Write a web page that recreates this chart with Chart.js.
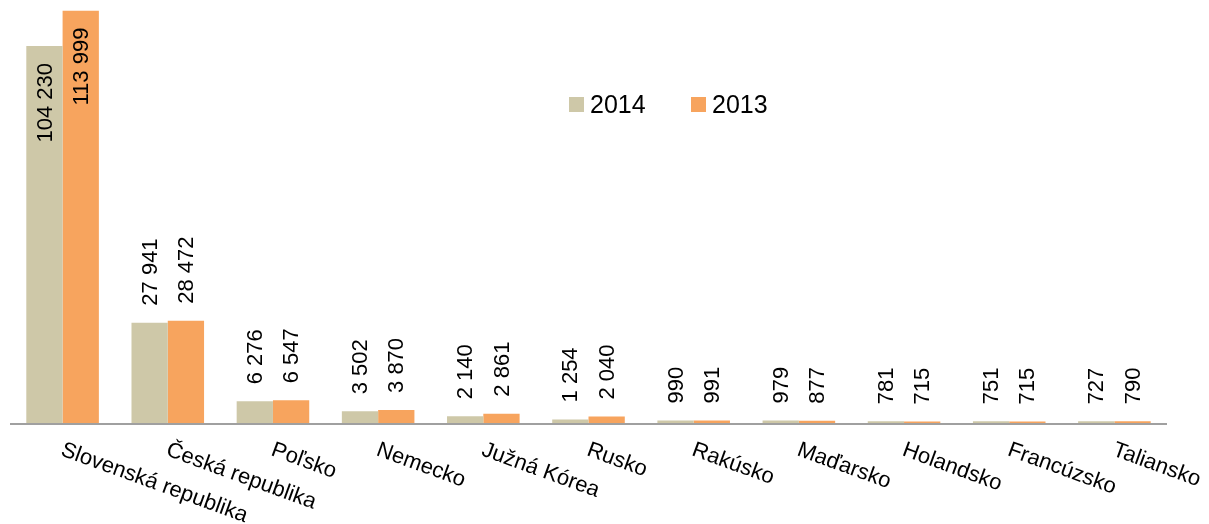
<!DOCTYPE html>
<html>
<head>
<meta charset="utf-8">
<script src="https://cdn.jsdelivr.net/npm/chart.js@4/dist/chart.umd.min.js"></script>
<style>
    body { margin: 0; background: #fff; }
    #wrap { width: 1209px; height: 524px; position: relative; }
</style>
</head>
<body>
<div id="wrap"><canvas id="exportChart"></canvas></div>
<script>
// countries and yearly values
const countries = ["Slovenská republika", "Česká republika", "Poľsko", "Nemecko", "Južná Kórea", "Rusko",
    "Rakúsko", "Maďarsko", "Holandsko", "Francúzsko", "Taliansko"];
const values2014 = [104230, 27941, 6276, 3502, 2140, 1254, 990, 979, 781, 751, 727];
const values2013 = [113999, 28472, 6547, 3870, 2861, 2040, 991, 877, 715, 715, 790];
const seriesNames = ["2014", "2013"];

const COLOR_2014 = "#cec8a8";
const COLOR_2013 = "#f7a45e";
const FONT = '"Liberation Sans", Arial, sans-serif';

// thousands with a space, like "104 230"
function formatValue(v) {
    return String(v).replace(/\B(?=(\d{3})+(?!\d))/g, " ");
}

// axis line, rotated category labels, value labels and legend
const decorations = {
    id: "decorations",
    afterDatasetsDraw(chart) {
        const ctx = chart.ctx;
        const area = chart.chartArea;
        const xScale = chart.scales.x;

        ctx.save();
        // axis line
        ctx.strokeStyle = "#a0a0a0";
        ctx.lineWidth = 2;
        ctx.beginPath();
        ctx.moveTo(area.left, area.bottom);
        ctx.lineTo(area.right, area.bottom);
        ctx.stroke();

        // category labels, going down to the right
        ctx.fillStyle = "#000";
        ctx.font = "22px " + FONT;
        ctx.textAlign = "left";
        ctx.textBaseline = "top";
        countries.forEach((name, i) => {
            const x = xScale.getPixelForValue(i);
            ctx.save();
            ctx.translate(x + 3, area.bottom + 15);
            ctx.rotate(20 * Math.PI / 180);
            ctx.fillText(name, 0, 0);
            ctx.restore();
        });

        // value labels, vertical
        ctx.textBaseline = "middle";
        chart.data.datasets.forEach((ds, di) => {
            const meta = chart.getDatasetMeta(di);
            meta.data.forEach((bar, i) => {
                const text = formatValue(ds.data[i]);
                const w = ctx.measureText(text).width;
                ctx.save();
                ctx.translate(bar.x + 1, bar.y);
                ctx.rotate(-Math.PI / 2);
                if (bar.y - 17 - w < area.top) {
                    ctx.textAlign = "right";
                    ctx.fillText(text, -17, 0);
                } else {
                    ctx.textAlign = "left";
                    ctx.fillText(text, 17, 0);
                }
                ctx.restore();
            });
        });

        // legend
        ctx.font = "25px " + FONT;
        ctx.textAlign = "left";
        ctx.textBaseline = "alphabetic";
        const legendX = [569, 691];
        chart.data.datasets.forEach((ds, di) => {
            ctx.fillStyle = ds.backgroundColor;
            ctx.fillRect(legendX[di], 97, 15, 15);
            ctx.fillStyle = "#000";
            ctx.fillText(ds.label, legendX[di] + 21, 113);
        });
        ctx.restore();
    }
};

const ctx = document.getElementById("exportChart").getContext("2d");
new Chart(ctx, {
    type: "bar",
    data: {
        labels: countries,
        datasets: [
            { label: seriesNames[0], data: values2014, backgroundColor: COLOR_2014 },
            { label: seriesNames[1], data: values2013, backgroundColor: COLOR_2013 }
        ]
    },
    options: {
        responsive: true,
        maintainAspectRatio: false,
        animation: false,
        datasets: {
            bar: { categoryPercentage: 0.69, barPercentage: 1.0, borderWidth: 0 }
        },
        layout: { padding: { left: 10, right: 42, top: 7, bottom: 100 } },
        scales: {
            x: { display: false },
            y: { display: false, min: 0, max: 115000 }
        },
        plugins: {
            legend: { display: false },
            tooltip: { enabled: false }
        }
    },
    plugins: [decorations]
});
</script>
</body>
</html>
